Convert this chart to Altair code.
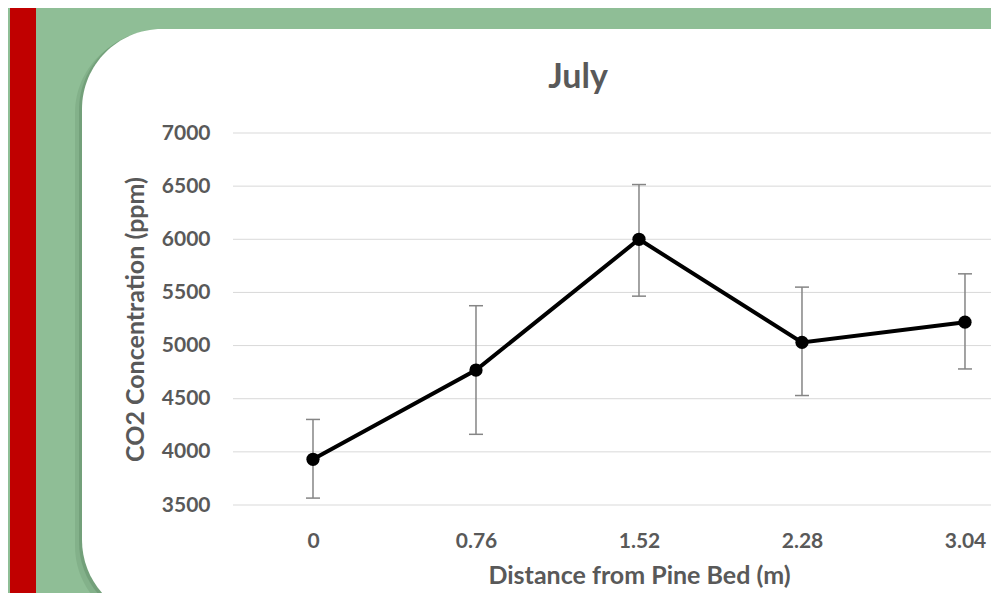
import altair as alt
import pandas as pd

# ---- data ----
distance = [0, 0.76, 1.52, 2.28, 3.04]
co2_mean = [3930, 4770, 6000, 5030, 5220]
co2_low = [3565, 4165, 5465, 4530, 4780]
co2_high = [4305, 5375, 6515, 5550, 5675]
y_ticks = [3500, 4000, 4500, 5000, 5500, 6000, 6500, 7000]
chart_title = ["July"]

df = pd.DataFrame({"distance": distance, "mean": co2_mean, "low": co2_low, "high": co2_high})
grid_df = pd.DataFrame({"tick": y_ticks})
title_df = pd.DataFrame({"t": chart_title})
one = pd.DataFrame({"k": [0]})

W, H = 758, 372
TXT = "#595959"
FONT = "Lato"

xscale = alt.Scale(domain=[-0.373, 3.1613], nice=False, zero=False)
yscale = alt.Scale(domain=[3500, 7000], nice=False, zero=False)

xaxis = alt.Axis(values=distance, format=".2~f", grid=False, domain=False, ticks=False,
                 labelPadding=25, labelFont=FONT, labelFontSize=21, labelFontWeight="bold",
                 labelColor=TXT, title="Distance from Pine Bed (m)", titleFont=FONT,
                 titleFontSize=25, titleFontWeight="bold", titleColor=TXT, titlePadding=12,
                 titleX=406, titleAnchor="middle", zindex=1)
yaxis = alt.Axis(values=y_ticks, format="d", grid=False, domain=False, ticks=False,
                 labelPadding=23, labelFont=FONT, labelFontSize=21, labelFontWeight="bold",
                 labelColor=TXT, title="CO2 Concentration (ppm)", titleFont=FONT,
                 titleFontSize=25, titleFontWeight="bold", titleColor=TXT, titlePadding=13,
                 zindex=1)

X = alt.X("distance:Q", scale=xscale, axis=xaxis)

stripe = alt.Chart(one).mark_rect(color="#c00000").encode(
    x=alt.value(-223), x2=alt.value(-197), y=alt.value(-200), y2=alt.value(700))
shadow1 = alt.Chart(one).mark_rect(color="#4f7a55", cornerRadius=80, opacity=0.18).encode(
    x=alt.value(-158), x2=alt.value(900), y=alt.value(-100), y2=alt.value(493))
shadow2 = alt.Chart(one).mark_rect(color="#4f7a55", cornerRadius=80, opacity=0.3).encode(
    x=alt.value(-154), x2=alt.value(900), y=alt.value(-103), y2=alt.value(489))
panel = alt.Chart(one).mark_rect(color="white", cornerRadius=80).encode(
    x=alt.value(-151), x2=alt.value(900), y=alt.value(-104), y2=alt.value(487))

title = alt.Chart(title_df).mark_text(font=FONT, fontSize=34, fontWeight="bold", color=TXT,
                                      align="center", baseline="middle").encode(
    text="t:N", x=alt.value(345), y=alt.value(-55))

grid = alt.Chart(grid_df).mark_rule(color="#d9d9d9", strokeWidth=1).encode(
    y=alt.Y("tick:Q", scale=yscale, axis=yaxis), x=alt.value(0), x2=alt.value(W))

err = alt.Chart(df).mark_rule(color="#858585", strokeWidth=1.5).encode(
    x=X, y=alt.Y("low:Q", scale=yscale, axis=yaxis), y2="high:Q")
cap_lo = alt.Chart(df).mark_tick(orient="horizontal", size=14, thickness=1.5, color="#858585", opacity=1).encode(
    x=X, y=alt.Y("low:Q", scale=yscale, axis=yaxis))
cap_hi = alt.Chart(df).mark_tick(orient="horizontal", size=14, thickness=1.5, color="#858585", opacity=1).encode(
    x=X, y=alt.Y("high:Q", scale=yscale, axis=yaxis))
line = alt.Chart(df).mark_line(color="black", strokeWidth=4).encode(
    x=X, y=alt.Y("mean:Q", scale=yscale, axis=yaxis))
pts = alt.Chart(df).mark_circle(size=175, color="black", opacity=1).encode(
    x=X, y=alt.Y("mean:Q", scale=yscale, axis=yaxis))

chart = alt.layer(stripe, shadow1, shadow2, panel, title, grid, err, cap_lo, cap_hi, line, pts).properties(
    width=W, height=H,
    padding={"left": 225, "top": 125, "right": 0, "bottom": 88},
    autosize=alt.AutoSizeParams(type="none"),
).configure(background="#8fbe96").configure_view(stroke=None)

chart.save("out.html", embed_options={"renderer": "svg", "actions": False})
